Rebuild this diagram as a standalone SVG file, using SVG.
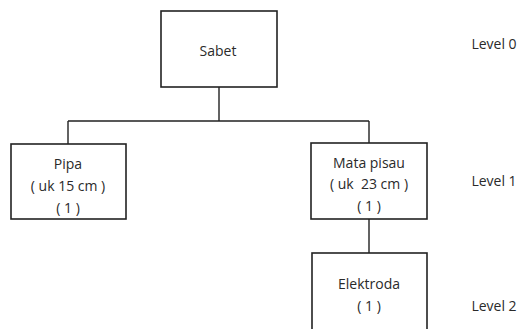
<svg xmlns="http://www.w3.org/2000/svg" width="522" height="329" viewBox="0 0 522 329">
<style>
.box{fill:#fff;stroke:#222;stroke-width:1.6}
.ln{fill:none;stroke:#222;stroke-width:1.4}
text{font-family:"Open Sans","Liberation Sans",Arial,sans-serif;font-size:14px;fill:#2a2a2a;text-anchor:middle;dominant-baseline:central}
</style>
<rect width="522" height="329" fill="#fff"/>
<g id="connectors">
<path class="ln" d="M219 87V121M68 121H369M68 121V144M369 121V143M369 219V253"/>
</g>
<g id="sabet">
<rect class="box" x="161" y="11" width="116" height="76"/>
<text x="218" y="50">Sabet</text>
</g>
<g id="pipa">
<rect class="box" x="11" y="144" width="115" height="75"/>
<text x="68" y="163">Pipa</text>
<text x="68" y="185">( uk 15 cm )</text>
<text x="68" y="207">( 1 )</text>
</g>
<g id="mata">
<rect class="box" x="311" y="143" width="116" height="76"/>
<text x="369" y="162">Mata pisau</text>
<text x="369" y="183" style="white-space:pre">( uk  23 cm )</text>
<text x="369" y="205">( 1 )</text>
</g>
<g id="elektroda">
<rect class="box" x="312" y="253" width="115" height="80"/>
<text x="369" y="283">Elektroda</text>
<text x="369" y="305">( 1 )</text>
</g>
<g id="levels">
<text x="494" y="43">Level 0</text>
<text x="494" y="180">Level 1</text>
<text x="494" y="305">Level 2</text>
</g>
</svg>
